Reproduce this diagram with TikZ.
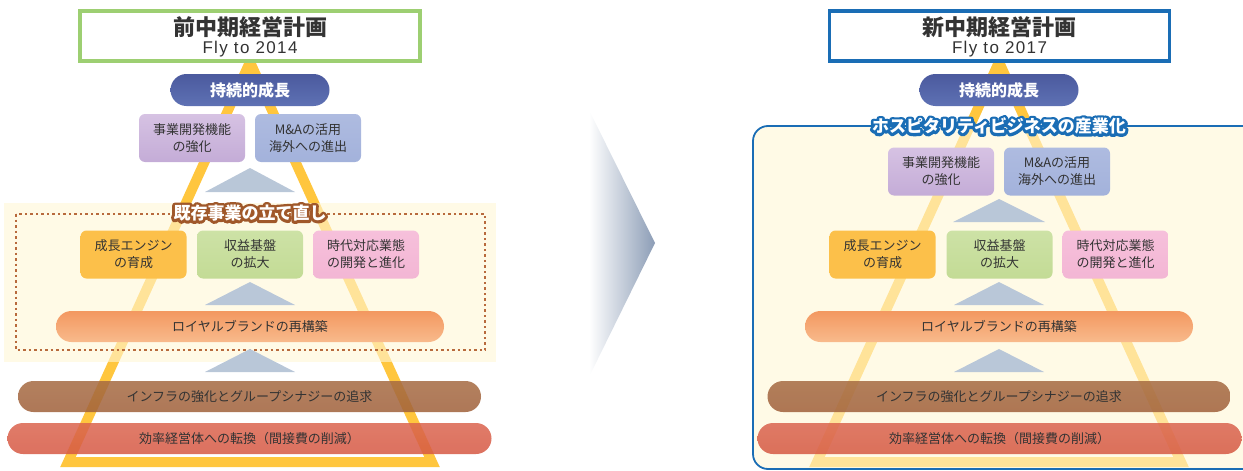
\documentclass[tikz,border=0pt]{standalone}
\usepackage{fontspec}
\setmainfont{Noto Sans CJK JP}
\newfontfamily\latinf[LetterSpace=8]{Liberation Sans}
\usetikzlibrary{calc}
\definecolor{txt}{HTML}{333333}
\definecolor{triy}{HTML}{FFC63E}
\definecolor{regfill}{HTML}{FFF7D6}
\definecolor{grnb}{HTML}{9DCF72}
\definecolor{blub}{HTML}{1A6DB5}
\definecolor{brnl}{HTML}{A0582A}
\definecolor{dashc}{HTML}{B86A3C}
\definecolor{smtri}{HTML}{B9C7D8}
\definecolor{navyA}{HTML}{4B5A9E}
\definecolor{navyB}{HTML}{242D68}
\definecolor{navyC}{HTML}{5E71B4}
\definecolor{purA}{HTML}{D6C2E3}
\definecolor{purC}{HTML}{C4ACD7}
\definecolor{bluA}{HTML}{AEBBE0}
\definecolor{bluC}{HTML}{A3B2DB}
\definecolor{orA}{HTML}{FCC04A}
\definecolor{orB}{HTML}{FFF8E8}
\definecolor{grA}{HTML}{CDE2A6}
\definecolor{grC}{HTML}{C3DB95}
\definecolor{pkA}{HTML}{F6C0DB}
\definecolor{pkB}{HTML}{FDF2F8}
\definecolor{pkC}{HTML}{F3B6D4}
\definecolor{royA}{HTML}{F39860}
\definecolor{royB}{HTML}{F6A874}
\definecolor{royC}{HTML}{F8BA8C}
\definecolor{infA}{HTML}{A56A42}
\definecolor{infB}{HTML}{BA8960}
\definecolor{infC}{HTML}{A0603A}
\definecolor{effA}{HTML}{DA644E}
\definecolor{effB}{HTML}{E9846E}
\definecolor{effC}{HTML}{D65843}
\definecolor{arrR}{HTML}{8C9DB6}
\newcommand\lblfnt{\bfseries\fontsize{17}{17}\selectfont}
% outlined label: stroke-only copy (text render mode 1) under a white fill copy
\newcommand\halolabel[4]{%
  \node[font=\lblfnt, inner sep=0pt] at (#2) {\special{pdf:literal direct 1 Tr 5.5 w 1 j #3 RG}#4\special{pdf:literal direct 0 Tr 1 w}};
  \node[text=white, font=\lblfnt, inner sep=0pt] (#1) at (#2) {#4};}
\begin{document}
\begin{tikzpicture}[x=1pt,y=-1pt,
  box/.style={rounded corners=6pt, minimum width=106pt, minimum height=48pt, inner sep=0pt, align=center, font=\fontsize{13}{17}\selectfont, text=txt},
  pill/.style={rounded corners=15.5pt, minimum height=31pt, inner sep=0pt, font=\fontsize{13}{17}\selectfont, text=txt},
  toppill/.style={rounded corners=16pt, minimum width=159pt, minimum height=32pt, inner sep=0pt, font=\bfseries\fontsize{16}{16}\selectfont, text=white, top color=navyA, middle color=navyB, bottom color=navyC},
  titlebox/.style={fill=white, line width=3.5pt, minimum width=340pt, minimum height=50pt, inner sep=0pt},
  bigtri/.style={draw=triy, line width=10pt, line join=miter},
  smalltri/.style={fill=smtri},
  purbox/.style={box, top color=purA, middle color=white, bottom color=purC},
  blubox/.style={box, top color=bluA, middle color=white, bottom color=bluC},
  orbox/.style={box, top color=orA, middle color=orB, bottom color=orA},
  grbox/.style={box, top color=grA, middle color=white, bottom color=grC},
  pkbox/.style={box, top color=pkA, middle color=pkB, bottom color=pkC},
  roypill/.style={pill, minimum width=388pt, top color=royA, middle color=royB, bottom color=royC},
  infpill/.style={pill, minimum width=463pt, top color=infA, middle color=infB, bottom color=infC, fill opacity=0.85, text opacity=1},
  effpill/.style={pill, minimum width=484pt, top color=effA, middle color=effB, bottom color=effC, fill opacity=0.85, text opacity=1}
]
\useasboundingbox (0,0) rectangle (1243,471);

% ===== LEFT PANEL =====
\draw[bigtri] (250,62) -- (68,462) -- (432,462) -- cycle;
\fill[regfill, fill opacity=0.6] (4,203) rectangle (496,362);
\draw[dashc, line width=1.4pt, dash pattern=on 2.5pt off 3pt] (16,214) rectangle (485,350);

\node[titlebox, draw=grnb] (t1) at (250,36) {};
\node[font=\bfseries\fontsize{22}{22}\selectfont, text=txt] (t1a) at (250,27) {前中期経営計画};
\node[font=\latinf\fontsize{17}{17}\selectfont, text=txt] (t1b) at (250,49) {Fly to 2014};

\node[toppill] (g1) at (250,90) {持続的成長};
\node[purbox] (a1) at (192,138) {事業開発機能\\の強化};
\node[blubox] (b1) at (308,138) {M\&Aの活用\\海外への進出};
\fill[smalltri] (205,192) -- (250,168) -- (295,192) -- cycle;

\halolabel{lab1}{250,213}{0.627 0.345 0.165}{既存事業の立て直し}

\node[orbox] (c1) at (133.5,254.5) {成長エンジン\\の育成};
\node[grbox] (d1) at (250,254.5) {収益基盤\\の拡大};
\node[pkbox] (e1) at (366,254.5) {時代対応業態\\の開発と進化};
\fill[smalltri] (205,305) -- (250,282) -- (295,305) -- cycle;
\node[roypill] (r1) at (250,326.5) {ロイヤルブランドの再構築};
\fill[smalltri] (205,372) -- (250,349) -- (295,372) -- cycle;
\node[infpill] (i1) at (249.5,396.5) {インフラの強化とグループシナジーの追求};
\node[effpill] (f1) at (249.5,438.5) {効率経営体への転換（間接費の削減）};

% ===== ARROW =====
\shade[left color=white, right color=arrR] (589,110) -- (655,243) -- (589,377) -- cycle;

% ===== RIGHT PANEL =====
\draw[bigtri] (999,62) -- (817,462) -- (1181,462) -- cycle;
\fill[regfill, fill opacity=0.6, rounded corners=15pt] (753,126) rectangle (1262,469);
\draw[blub, line width=1.8pt, rounded corners=15pt] (753,126) rectangle (1262,469);

\node[titlebox, draw=blub] (t2) at (999.5,36) {};
\node[font=\bfseries\fontsize{22}{22}\selectfont, text=txt] (t2a) at (999.5,27) {新中期経営計画};
\node[font=\latinf\fontsize{17}{17}\selectfont, text=txt] (t2b) at (999.5,49) {Fly to 2017};

\node[toppill] (g2) at (999,90) {持続的成長};
\halolabel{lab2}{999,126}{0.102 0.427 0.71}{ホスピタリティビジネスの産業化}

\node[purbox] (a2) at (941,171.5) {事業開発機能\\の強化};
\node[blubox] (b2) at (1057,171.5) {M\&Aの活用\\海外への進出};
\fill[smalltri] (953,222) -- (999,199) -- (1045,222) -- cycle;

\node[orbox] (c2) at (882.5,254.5) {成長エンジン\\の育成};
\node[grbox] (d2) at (999.5,254.5) {収益基盤\\の拡大};
\node[pkbox] (e2) at (1115.5,254.5) {時代対応業態\\の開発と進化};
\fill[smalltri] (954,305) -- (999,282) -- (1044,305) -- cycle;
\node[roypill] (r2) at (999,326.5) {ロイヤルブランドの再構築};
\fill[smalltri] (954,372) -- (999,349) -- (1044,372) -- cycle;
\node[infpill] (i2) at (999,396.5) {インフラの強化とグループシナジーの追求};
\node[effpill] (f2) at (999.5,438.5) {効率経営体への転換（間接費の削減）};
\end{tikzpicture}
\end{document}
